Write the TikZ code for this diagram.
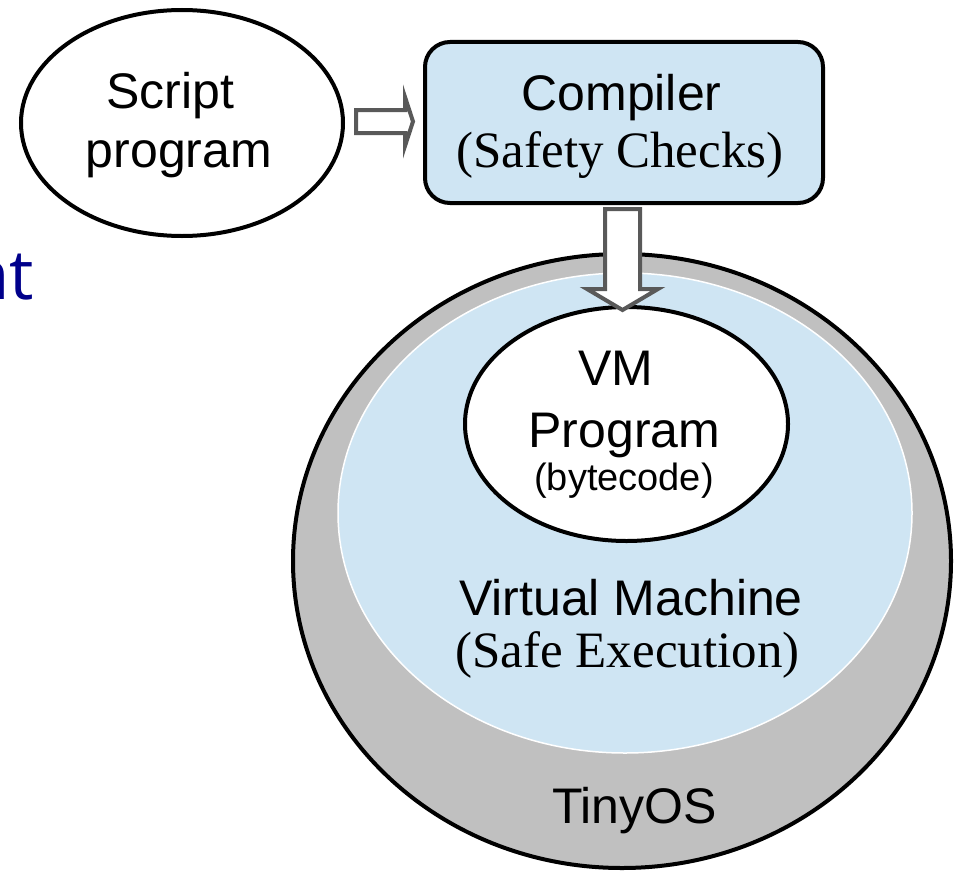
\documentclass[tikz,border=0pt]{standalone}
\usepackage{fontspec}
\setmainfont{Liberation Sans}
\newfontfamily\serifF{Liberation Serif}
\newfontfamily\blueF{Open Sans}
\usetikzlibrary{shapes.geometric,calc}
\definecolor{lblue}{HTML}{CFE5F3}
\definecolor{ring}{HTML}{C0C0C0}
\definecolor{arrowgray}{HTML}{595959}
\definecolor{navyblue}{HTML}{00008B}
\begin{document}
\begin{tikzpicture}[x=1pt,y=-1pt,
  sans/.style={font=\fontsize{50}{60}\selectfont, inner sep=0pt, anchor=base},
  serif/.style={font=\serifF\fontsize{51}{60}\selectfont, inner sep=0pt, anchor=base},
  blockarrow/.style={draw=arrowgray, fill=white, line width=4pt, line join=miter},
  oval/.style={ellipse, draw, line width=4pt, inner sep=0pt}]
\useasboundingbox (0,0) rectangle (963,875);
% shapes
\node[oval, fill=white, minimum width=322pt, minimum height=226pt] (script) at (182,123) {};
\node[rectangle, rounded corners=25pt, draw, fill=lblue, line width=4pt,
      minimum width=398pt, minimum height=161pt, inner sep=0pt] (compiler) at (624,122.5) {};
\node[oval, fill=ring, minimum width=658pt, minimum height=614pt] (tinyos) at (622,561) {};
\node[ellipse, draw=white, fill=lblue, line width=1.5pt, inner sep=0pt,
      minimum width=574pt, minimum height=480pt] (vmach) at (625,513) {};
\node[oval, fill=white, minimum width=323pt, minimum height=234pt] (vm) at (626.5,424) {};
% texts
\node[sans] (t1) at (170.5,108) {Script};
\node[sans] (t2) at (179,167) {program};
\node[sans] (t3) at (621.5,110) {Compiler};
\node[serif] (t4) at (620,167) {(Safety Checks)};
\node[sans] (t5) at (616,385) {VM};
\node[sans] (t6) at (624.5,447) {Program};
\node[sans, font=\fontsize{38}{45}\selectfont] (t7) at (624,490) {(bytecode)};
\node[sans] (t8) at (631,615) {Virtual Machine};
\node[serif] (t9) at (627.5,667) {(Safe Execution)};
\node[sans] (t10) at (634.5,823) {TinyOS};
\node[font=\blueF\fontsize{69}{80}\selectfont, text=navyblue, anchor=base east, inner sep=0pt] (frag) at (34,299) {nt};
% arrows
\draw[blockarrow] ($(script.east)+(11,-13)$) -- ($(script.east)+(60,-13)$) -- ($(script.east)+(60,-26)$)
  -- ($(compiler.west)+(-10,-1)$) -- ($(script.east)+(60,23)$) -- ($(script.east)+(60,10)$)
  -- ($(script.east)+(11,10)$) -- cycle;
\draw[blockarrow] ($(compiler.south)+(-19,4)$) -- ($(compiler.south)+(-19,84)$) -- ($(compiler.south)+(-37,84)$)
  -- ($(vm.north)+(-4,5)$) -- ($(compiler.south)+(34,84)$) -- ($(compiler.south)+(16,84)$)
  -- ($(compiler.south)+(16,4)$) -- cycle;
\end{tikzpicture}
\end{document}
